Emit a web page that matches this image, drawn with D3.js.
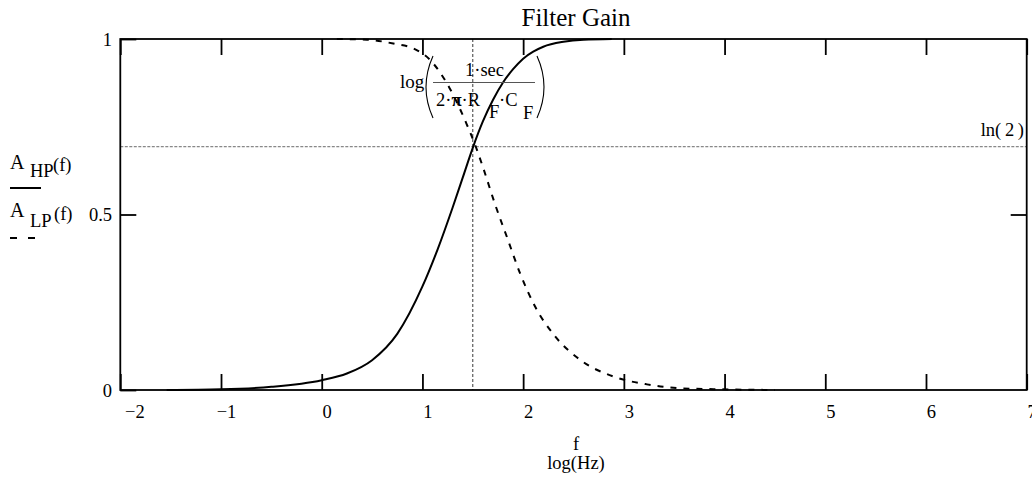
<!DOCTYPE html>
<html>
<head>
<meta charset="utf-8">
<script src="https://cdn.jsdelivr.net/npm/d3@7"></script>
<style>
  html, body { margin: 0; padding: 0; background: #fff; }
  svg { display: block; }
  text { font-family: "Liberation Serif", "Times New Roman", "DejaVu Serif", serif; fill: #000; }
</style>
</head>
<body>
<svg id="chart" width="1032" height="481"></svg>
<script>
// ---- data ----
const xTicks = [-2, -1, 0, 1, 2, 3, 4, 5, 6, 7];
const xTickLabels = ["\u22122", "\u22121", "0", "1", "2", "3", "4", "5", "6", "7"];
const yTicks = [0, 0.5, 1];
const yTickLabels = ["0", "0.5", "1"];

// A_HP(f): solid curve
const hpX = [-1.54, -1.0, -0.5, 0.0, 0.25, 0.5, 0.75, 1.0, 1.15, 1.3, 1.4, 1.5, 1.6, 1.7, 1.8, 1.9, 2.0, 2.1, 2.2, 2.4, 2.6, 2.88];
const hpY = [0.000, 0.002, 0.009, 0.028, 0.047, 0.085, 0.160, 0.295, 0.400, 0.520, 0.605, 0.690, 0.765, 0.826, 0.876, 0.914, 0.944, 0.964, 0.978, 0.992, 0.998, 1.000];

// A_LP(f): dashed curve
const lpX = [0.15, 0.45, 0.71, 0.91, 1.07, 1.27, 1.44, 1.53, 1.61, 1.72, 1.84, 1.97, 2.12, 2.32, 2.57, 2.90, 3.23, 3.56, 3.96, 4.50];
const lpY = [1.000, 0.998, 0.987, 0.973, 0.942, 0.860, 0.757, 0.693, 0.627, 0.530, 0.435, 0.332, 0.237, 0.152, 0.085, 0.038, 0.016, 0.005, 0.002, 0.000];

// markers
const cutoffLog = 1.5;          // log(1 sec / (2·π·R_F·C_F))
const ln2 = Math.log(2);        // ln(2)

const title = "Filter Gain";
const xLabel1 = "f";
const xLabel2 = "log(Hz)";

// ---- layout ----
const svg = d3.select("#chart");
const L = 120.3, R = 1026.7, T = 39, B = 390;
const x = d3.scaleLinear().domain([-2, 7]).range([L, R]);
const y = d3.scaleLinear().domain([0, 1]).range([B, T]);
const font = 18.5;

// title
svg.append("text").attr("x", 576).attr("y", 26).attr("text-anchor", "middle")
  .attr("font-size", 25).text(title);

// reference lines
svg.append("line").attr("x1", L).attr("x2", R).attr("y1", y(ln2)).attr("y2", y(ln2))
  .attr("stroke", "#6a6a6a").attr("stroke-width", 1).attr("stroke-dasharray", "3,1.5");
svg.append("line").attr("x1", x(cutoffLog)).attr("x2", x(cutoffLog)).attr("y1", T).attr("y2", B)
  .attr("stroke", "#222").attr("stroke-width", 0.9).attr("stroke-dasharray", "3,2");

// curves
const hp = hpX.map((v, i) => [v, hpY[i]]);
const lp = lpX.map((v, i) => [v, lpY[i]]);
const line = d3.line().x(d => x(d[0])).y(d => y(d[1])).curve(d3.curveMonotoneX);
svg.append("path").datum(hp).attr("d", line).attr("fill", "none")
  .attr("stroke", "#000").attr("stroke-width", 2);
svg.append("path").datum(lp).attr("d", line).attr("fill", "none")
  .attr("stroke", "#000").attr("stroke-width", 2).attr("stroke-dasharray", "6,7");

// axes (ticks on all four sides, pointing inward)
const gB = svg.append("g").attr("transform", `translate(0,${B})`)
  .call(d3.axisBottom(x).tickValues(xTicks).tickSize(-16)
    .tickFormat((d, i) => xTickLabels[i]));
gB.selectAll("text").attr("y", 418 - B).attr("dy", 0).attr("font-size", font)
  .attr("dx", d => d === -2 ? 14 : 5);
const gT = svg.append("g").attr("transform", `translate(0,${T})`)
  .call(d3.axisTop(x).tickValues(xTicks).tickSize(-16).tickFormat(""));
const gL = svg.append("g").attr("transform", `translate(${L},0)`)
  .call(d3.axisLeft(y).tickValues(yTicks).tickSize(-16)
    .tickFormat((d, i) => yTickLabels[i]));
gL.selectAll("text").attr("x", 112 - L).attr("dy", "0.33em").attr("font-size", font);
const gR = svg.append("g").attr("transform", `translate(${R},0)`)
  .call(d3.axisRight(y).tickValues([0.5]).tickSize(-16).tickFormat(""));
[gB, gT, gL, gR].forEach(g => {
  g.select(".domain").remove();
  g.selectAll(".tick line").attr("stroke", "#000").attr("stroke-width", 1.8);
  g.attr("font-family", null).attr("font-size", null);
});

// frame
svg.append("rect").attr("x", L).attr("y", T).attr("width", R - L).attr("height", B - T)
  .attr("fill", "none").attr("stroke", "#000").attr("stroke-width", 1.8);

// x axis title
svg.append("text").attr("x", 576).attr("y", 450).attr("text-anchor", "middle")
  .attr("font-size", font).text(xLabel1);
svg.append("text").attr("x", 576).attr("y", 469).attr("text-anchor", "middle")
  .attr("font-size", font).text(xLabel2);

// legend / y-axis title
function legendEntry(yA, ySub, yF, sub, dash, yLine) {
  svg.append("text").attr("x", 10).attr("y", yA).attr("font-size", 20).text("A");
  svg.append("text").attr("x", 30).attr("y", ySub).attr("font-size", font).text(sub);
  svg.append("text").attr("x", sub === "HP" ? 53 : 54).attr("y", yF).attr("font-size", font).text("(f)");
  svg.append("line").attr("x1", 10).attr("x2", dash ? 35 : 41).attr("y1", yLine).attr("y2", yLine)
    .attr("stroke", "#000").attr("stroke-width", 2)
    .attr("stroke-dasharray", dash ? "7,11" : null);
}
legendEntry(169, 177, 171, "HP", false, 188);
legendEntry(217, 227, 220, "LP", true, 238);

// ln(2) label
svg.append("text").attr("x", 1024).attr("y", 136).attr("text-anchor", "end")
  .attr("font-size", font).text("ln(\u20092\u2009)");

// cutoff formula label
const fg = svg.append("g");
fg.append("text").attr("x", 400).attr("y", 88).attr("font-size", 19).text("log");
fg.append("path").attr("d", "M433,56 Q419,87 433,118").attr("fill", "none")
  .attr("stroke", "#000").attr("stroke-width", 1.1);
fg.append("path").attr("d", "M537,56 Q551,87 537,118").attr("fill", "none")
  .attr("stroke", "#000").attr("stroke-width", 1.1);
fg.append("text").attr("x", 465).attr("y", 76).attr("font-size", font).text("1\u00B7sec");
fg.append("line").attr("x1", 433).attr("x2", 535).attr("y1", 82.5).attr("y2", 82.5)
  .attr("stroke", "#555").attr("stroke-width", 1);
const den = fg.append("text").attr("x", 436).attr("y", 106).attr("font-size", font);
den.append("tspan").text("2\u00B7");
den.append("tspan").attr("font-weight", "bold").text("\u03C0");
den.append("tspan").text("\u00B7R");
fg.append("text").attr("x", 489).attr("y", 118).attr("font-size", font).text("F");
fg.append("text").attr("x", 499).attr("y", 106).attr("font-size", font).text("\u00B7C");
fg.append("text").attr("x", 523).attr("y", 119).attr("font-size", font).text("F");
</script>
</body>
</html>
